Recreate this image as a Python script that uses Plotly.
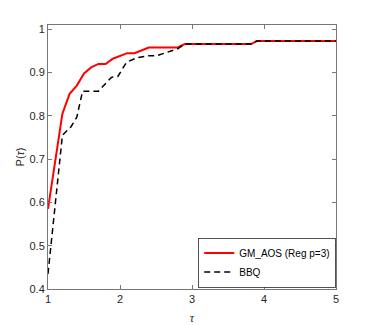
import plotly.graph_objects as go

# performance profile values
tau_gm = [1.0, 1.2, 1.3, 1.4, 1.5, 1.6, 1.7, 1.8, 1.9, 2.0, 2.1, 2.2, 2.4, 2.8, 2.9, 3.82, 3.9, 5.0]
p_gm = [0.585, 0.805, 0.851, 0.870, 0.898, 0.912, 0.920, 0.920, 0.932, 0.939, 0.945, 0.945,
        0.958, 0.958, 0.966, 0.966, 0.973, 0.973]

tau_bbq = [1.0, 1.2, 1.32, 1.4, 1.48, 1.7, 1.88, 1.97, 2.09, 2.23, 2.39, 2.51, 2.8, 2.9,
           3.82, 3.9, 5.0]
p_bbq = [0.435, 0.755, 0.775, 0.797, 0.857, 0.857, 0.889, 0.891, 0.924, 0.934, 0.939, 0.939,
         0.955, 0.966, 0.966, 0.973, 0.973]

x_ticks = [1, 2, 3, 4, 5]
y_ticks = [0.4, 0.5, 0.6, 0.7, 0.8, 0.9, 1.0]
y_tick_labels = ['0.4', '0.5', '0.6', '0.7', '0.8', '0.9', '1']

fig = go.Figure()
fig.add_trace(go.Scatter(
    x=tau_gm, y=p_gm, mode='lines', name='GM_AOS (Reg p=3)',
    line=dict(color='#ff0000', width=2)
))
fig.add_trace(go.Scatter(
    x=tau_bbq, y=p_bbq, mode='lines', name='BBQ',
    line=dict(color='#000000', width=1.5, dash='6px,4px')
))

axis_style = dict(
    showline=True, linecolor='#777777', linewidth=1, mirror='ticks',
    ticks='inside', ticklen=4, tickcolor='#777777',
    showgrid=False, zeroline=False, automargin=False,
    tickfont=dict(family='Liberation Sans, Arial', size=11, color='#262626'),
)

fig.update_xaxes(range=[1, 5], tickvals=x_ticks,
                 title=dict(text='<i>τ</i>', font=dict(family='Liberation Serif', size=12, color='#262626'),
                            standoff=12),
                 **axis_style)
fig.update_yaxes(range=[0.4, 1.01], tickvals=y_ticks, ticktext=y_tick_labels,
                 title=dict(text='P(<i>τ</i>)', font=dict(family='Liberation Sans, Arial', size=11, color='#262626'),
                            standoff=2),
                 **axis_style)

# the page body keeps its default 8px margin, so the figure is 8px smaller
fig.update_layout(
    width=363, height=317,
    margin=dict(l=40, r=35, t=17, b=36),
    plot_bgcolor='white', paper_bgcolor='white',
    showlegend=True,
    legend=dict(
        x=0.998, y=0.005, xanchor='right', yanchor='bottom',
        bgcolor='white', bordercolor='#262626', borderwidth=0.8,
        font=dict(family='Liberation Sans, Arial', size=10, color='#000000'),
        tracegroupgap=0, itemwidth=30,
    ),
)

fig.write_html("out.html")
